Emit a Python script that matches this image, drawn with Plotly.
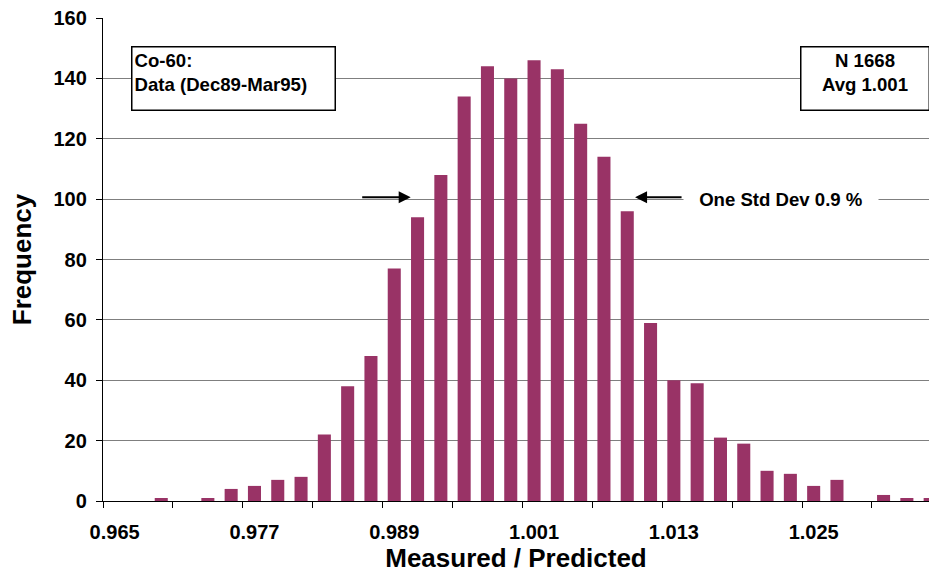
import plotly.graph_objects as go

# Bin centres (Measured / Predicted) and frequencies
bin_centres = [0.965, 0.967, 0.969, 0.971, 0.973, 0.975, 0.977, 0.979, 0.981, 0.983,
               0.985, 0.987, 0.989, 0.991, 0.993, 0.995, 0.997, 0.999, 1.001, 1.003,
               1.005, 1.007, 1.009, 1.011, 1.013, 1.015, 1.017, 1.019, 1.021, 1.023,
               1.025, 1.027, 1.029, 1.031, 1.033, 1.035]
frequency = [0, 0, 1, 0, 1, 4, 5, 7, 8, 22,
             38, 48, 77, 94, 108, 134, 144, 140, 146, 143,
             125, 114, 96, 59, 40, 39, 21, 19, 10, 9,
             5, 7, 0, 2, 1, 1]

x_tick_values = [0.965, 0.977, 0.989, 1.001, 1.013, 1.025]
x_tick_labels = ["0.965", "0.977", "0.989", "1.001", "1.013", "1.025"]
x_minor_ticks = [0.964, 0.970, 0.976, 0.982, 0.988, 0.994, 1.000, 1.006, 1.012,
                 1.018, 1.024, 1.030]
y_tick_values = [0, 20, 40, 60, 80, 100, 120, 140, 160]

FONT = "Liberation Sans, Arial, sans-serif"
BAR_COLOR = "#993366"
GRID = "#7f7f7f"

fig = go.Figure()
fig.add_trace(go.Bar(
    x=bin_centres, y=frequency, width=0.00112,
    marker=dict(color=BAR_COLOR, line=dict(width=0)),
    showlegend=False,
))

fig.update_layout(
    width=929, height=575,
    margin=dict(l=103, r=0, t=18, b=74, autoexpand=False),
    paper_bgcolor="white", plot_bgcolor="white",
    font=dict(family=FONT, color="black"),
)

fig.update_xaxes(
    range=[0.964, 1.0349],
    tickmode="array", tickvals=x_tick_values, ticktext=x_tick_labels,
    ticks="", showgrid=False, zeroline=False,
    tickfont=dict(family=FONT, size=20, color="black", weight="bold"),
    ticklabelstandoff=13,
    showline=True, linecolor="black", linewidth=1.3,
    minor=dict(tickmode="array", tickvals=x_minor_ticks, ticks="outside",
               ticklen=6, tickcolor="black", tickwidth=1.3, showgrid=False),
    title=dict(text="Measured / Predicted",
               font=dict(family=FONT, size=26, color="black", weight="bold"), standoff=4),
    automargin=False,
)

fig.update_yaxes(
    range=[0, 160],
    tickmode="array", tickvals=y_tick_values,
    ticks="outside", ticklen=6, tickcolor="black", tickwidth=1.3,
    tickfont=dict(family=FONT, size=20, color="black", weight="bold"),
    ticklabelstandoff=5,
    showgrid=True, gridcolor=GRID, gridwidth=1.3,
    zeroline=False,
    showline=True, linecolor="black", linewidth=1.3,
    title=dict(text="Frequency",
               font=dict(family=FONT, size=26, color="black", weight="bold"), standoff=14),
    automargin=False,
)

annots = [
    dict(xref="paper", yref="paper", x=0.0335, y=0.9427, xanchor="left", yanchor="top",
         text="Co-60:<br>Data (Dec89-Mar95)<br> ", align="left", valign="top",
         width=198, height=58, showarrow=False,
         font=dict(family=FONT, size=18.6, color="black", weight="bold"),
         bordercolor="black", borderwidth=1.5, borderpad=2, bgcolor="white"),
    dict(xref="paper", yref="paper", x=0.9228, y=0.9427, xanchor="center", yanchor="top",
         text="N 1668<br>Avg 1.001<br> ", align="center", valign="top",
         width=123, height=58, showarrow=False,
         font=dict(family=FONT, size=18.6, color="black", weight="bold"),
         bordercolor="black", borderwidth=1.5, borderpad=2, bgcolor="white"),
    dict(xref="x", yref="y", x=0.99041, y=100.6, ax=0.98612, ay=100.6,
         axref="x", ayref="y", text="", showarrow=True,
         arrowhead=2, arrowsize=1.2, arrowwidth=2, arrowcolor="black"),
    dict(xref="x", yref="y", x=1.00967, y=100.6, ax=1.01379, ay=100.6,
         axref="x", ayref="y", text="", showarrow=True,
         arrowhead=2, arrowsize=1.2, arrowwidth=2, arrowcolor="black"),
    dict(xref="x", yref="y", x=1.02223, y=100, xanchor="center", yanchor="middle",
         text="One Std Dev 0.9 %", showarrow=False, width=188,
         font=dict(family=FONT, size=18.6, color="black", weight="bold"),
         bgcolor="white", borderpad=3),
]
fig.update_layout(annotations=annots)

fig.write_html("out.html", config={"displayModeBar": False},
               post_script="document.body.style.margin='0';document.body.style.padding='0';")
